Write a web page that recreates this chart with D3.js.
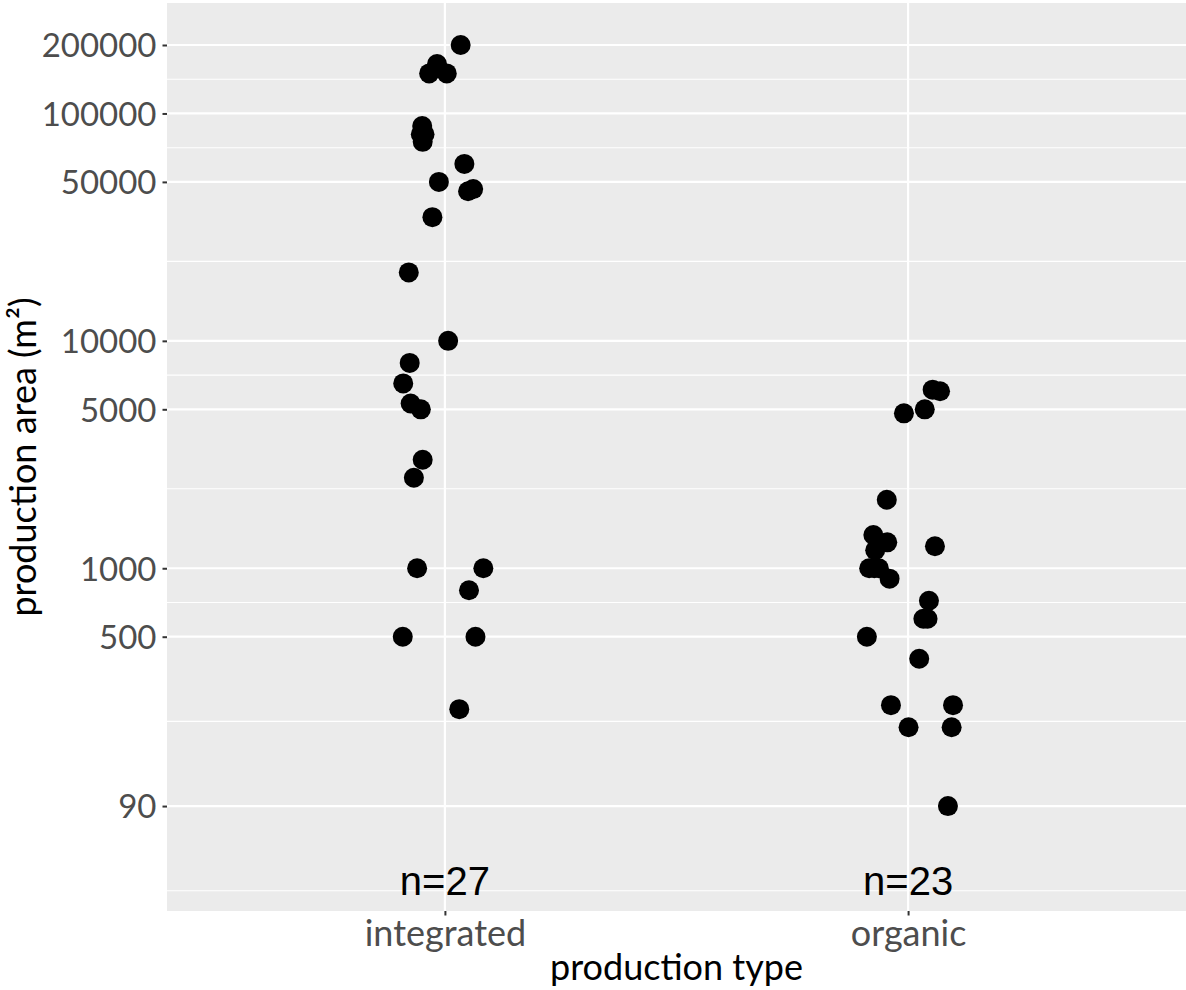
<!DOCTYPE html>
<html>
<head>
<meta charset="utf-8">
<script src="https://cdn.jsdelivr.net/npm/d3@7"></script>
<style>
  html, body { margin: 0; padding: 0; background: #ffffff; }
  svg { display: block; }
</style>
</head>
<body>
<svg id="chart" width="1186" height="990"></svg>
<script>
// Production area per farm, split by production type
const categories = ["integrated", "organic"];

const integratedArea = [200000, 165000, 150000, 150000, 88000, 81000, 81000, 75000,
  60000, 50000, 45500, 46500, 35000, 20000, 10000, 8000, 6500, 5300, 5000,
  3000, 2500, 1000, 1000, 800, 500, 500, 240];
// horizontal jitter, in units of the category step
const integratedJitter = [0.034, -0.017, -0.034, 0.004, -0.049, -0.052, -0.044, -0.048,
  0.042, -0.013, 0.050, 0.061, -0.027, -0.078, 0.007, -0.076, -0.090, -0.074, -0.052,
  -0.048, -0.067, -0.060, 0.083, 0.052, -0.091, 0.066, 0.031];

const organicArea = [6100, 6000, 5000, 4800, 2000, 1400, 1300, 1200, 1250, 1000, 1000,
  1000, 900, 720, 600, 600, 500, 400, 250, 250, 200, 200, 90];
const organicJitter = [0.053, 0.069, 0.036, -0.009, -0.046, -0.075, -0.045, -0.071, 0.058,
  -0.084, -0.073, -0.063, -0.040, 0.045, 0.033, 0.042, -0.089, 0.024, -0.037, 0.097,
  0.001, 0.094, 0.086];

const yTicks = [90, 500, 1000, 5000, 10000, 50000, 100000, 200000];
const yDomain = [31.1, 306000];
const countLabelY = 42;
const countLabels = ["n=27", "n=23"];

const points = [
  ...integratedArea.map((v, i) => ({ type: "integrated", area: v, jit: integratedJitter[i] })),
  ...organicArea.map((v, i) => ({ type: "organic", area: v, jit: organicJitter[i] }))
];

const W = 1186, H = 990;
const panel = { left: 167, right: 1186, top: 3, bottom: 911 };

const svg = d3.select("#chart");
svg.append("rect").attr("width", W).attr("height", H).attr("fill", "#ffffff");

const x = d3.scalePoint().domain(categories).range([panel.left, panel.right]).padding(0.6);
const y = d3.scaleLog().domain(yDomain).range([panel.bottom, panel.top]);

// panel background
svg.append("rect")
  .attr("x", panel.left).attr("y", panel.top)
  .attr("width", panel.right - panel.left).attr("height", panel.bottom - panel.top)
  .attr("fill", "#EBEBEB");

// minor breaks: midpoints between major breaks in log space, plus one step below
const logT = yTicks.map(Math.log10);
const minor = [];
for (let i = 0; i < logT.length - 1; i++) minor.push((logT[i] + logT[i + 1]) / 2);
minor.push(logT[0] - (logT[1] - logT[0]) / 2);

const grid = svg.append("g");
grid.selectAll("line.minor").data(minor.map(l => Math.pow(10, l)))
  .join("line").attr("class", "minor")
  .attr("x1", panel.left).attr("x2", panel.right)
  .attr("y1", d => y(d)).attr("y2", d => y(d))
  .attr("stroke", "#ffffff").attr("stroke-width", 1.1);
grid.selectAll("line.majorY").data(yTicks)
  .join("line").attr("class", "majorY")
  .attr("x1", panel.left).attr("x2", panel.right)
  .attr("y1", d => y(d)).attr("y2", d => y(d))
  .attr("stroke", "#ffffff").attr("stroke-width", 2.2);
grid.selectAll("line.majorX").data(categories)
  .join("line").attr("class", "majorX")
  .attr("x1", d => x(d)).attr("x2", d => x(d))
  .attr("y1", panel.top).attr("y2", panel.bottom)
  .attr("stroke", "#ffffff").attr("stroke-width", 2.2);

// axes
const yAxis = svg.append("g")
  .attr("transform", `translate(${panel.left},0)`)
  .call(d3.axisLeft(y).tickValues(yTicks).tickFormat(d3.format("d")).tickSize(4.5).tickPadding(6));
const xAxis = svg.append("g")
  .attr("transform", `translate(0,${panel.bottom})`)
  .call(d3.axisBottom(x).tickSize(4.5).tickPadding(5));

[yAxis, xAxis].forEach(g => {
  g.select(".domain").remove();
  g.selectAll(".tick line").attr("stroke", "#333333").attr("stroke-width", 2);
  g.selectAll(".tick text")
    .attr("fill", "#4D4D4D")
    .style("font-family", "Lato, sans-serif");
});
yAxis.selectAll(".tick text").style("font-size", "33px").attr("dy", "0.36em");
xAxis.selectAll(".tick text").style("font-size", "36px").attr("dy", "0.72em");

// points
const step = x.step();
svg.append("g").selectAll("circle").data(points)
  .join("circle")
  .attr("cx", d => x(d.type) + d.jit * step)
  .attr("cy", d => y(d.area))
  .attr("r", 10)
  .attr("fill", "#000000");

// sample counts
svg.append("g").selectAll("text").data(categories)
  .join("text")
  .attr("x", d => x(d))
  .attr("y", y(countLabelY))
  .attr("dy", "0.35em")
  .attr("text-anchor", "middle")
  .style("font-family", "'Liberation Sans', Arial, sans-serif")
  .style("font-size", "40px")
  .attr("fill", "#000000")
  .text((d, i) => countLabels[i]);

// axis titles
svg.append("text")
  .attr("x", (panel.left + panel.right) / 2)
  .attr("y", 980)
  .attr("text-anchor", "middle")
  .style("font-family", "Lato, sans-serif")
  .style("font-size", "36px")
  .attr("fill", "#000000")
  .text("production type");

svg.append("text")
  .attr("transform", `translate(36,${(panel.top + panel.bottom) / 2}) rotate(-90)`)
  .attr("text-anchor", "middle")
  .style("font-family", "Lato, sans-serif")
  .style("font-size", "36px")
  .attr("fill", "#000000")
  .text("production area (m²)");
</script>
</body>
</html>
